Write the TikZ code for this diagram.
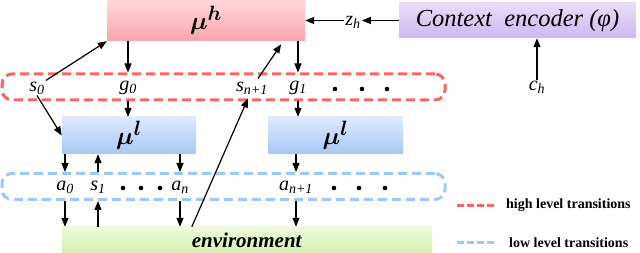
\documentclass[tikz,border=0pt]{standalone}
\usepackage{fontspec}
\setmainfont{Liberation Serif}
\usepackage{amsmath}
\usepackage{bm}
\usepackage{tikz}
\usetikzlibrary{positioning, arrows.meta, calc}

\definecolor{hiRed}{HTML}{FF6464}
\definecolor{loBlue}{HTML}{9CC8FA}
\definecolor{muhTop}{HTML}{FFD8DC}
\definecolor{muhBot}{HTML}{F8A4AC}
\definecolor{mulTop}{HTML}{DEEAFD}
\definecolor{mulBot}{HTML}{A8C6F6}
\definecolor{envTop}{HTML}{F0FADF}
\definecolor{envBot}{HTML}{D2F0AE}
\definecolor{ctxTop}{HTML}{E8DDF7}
\definecolor{ctxBot}{HTML}{CDB9EE}
\newcommand{\tsub}[2]{\textit{#1}\textsubscript{\textit{#2}}}

\begin{document}
\begin{tikzpicture}[x=1pt, y=-1pt,
  arr/.style={-{Triangle[length=9pt,width=7pt]}, line width=1.2pt},
  lbl/.style={inner sep=1pt, font=\fontsize{20}{20}\selectfont},
  trans/.style={line width=3pt, dash pattern=on 9pt off 5pt,
    rounded corners=10pt, minimum width=443pt, minimum height=26pt},
  legline/.style={line width=3pt, dash pattern=on 6.5pt off 3.5pt}]

  \useasboundingbox (0,0) rectangle (640,253);

  % --- Boxes ---
  \node[top color=muhTop, bottom color=muhBot, minimum width=198pt,
    minimum height=41pt] (muh) at (206,20.5)
    {\fontsize{29}{29}\selectfont$\bm{\mu^{h}}$};
  \node[top color=ctxTop, bottom color=ctxBot, minimum width=237pt,
    minimum height=35pt] (ctx) at (517.5,20.5)
    {\fontsize{24.5}{24.5}\selectfont\textit{Context~ encoder (φ)}};
  \node[top color=mulTop, bottom color=mulBot, minimum width=134pt,
    minimum height=37pt] (mulA) at (129,135.5)
    {\fontsize{28}{28}\selectfont$\bm{\mu^{l}}$};
  \node[top color=mulTop, bottom color=mulBot, minimum width=135pt,
    minimum height=37pt] (mulB) at (335.5,135.5)
    {\fontsize{28}{28}\selectfont$\bm{\mu^{l}}$};
  \node[top color=envTop, bottom color=envBot,
    minimum width=370pt, minimum height=26pt] (env) at (247,240)
    {\fontsize{21}{21}\selectfont\textbf{\textit{environment}}};

  % --- Transition groups ---
  \node[trans, draw=hiRed] (hlt) at (223.5,87) {};
  \node[trans, draw=loBlue] (llt) at (223.5,186.5) {};

  % --- High level labels ---
  \node[lbl] (s0) at (37,88) {\tsub{s}{0}};
  \node[lbl] (g0) at (128,88) {\tsub{g}{0}};
  \node[lbl] (sn1) at (252,88) {\tsub{s}{n+1}};
  \node[lbl] (g1) at (298,88) {\tsub{g}{1}};
  \foreach \x in {335,362,387}{
    \fill (\x,89) circle (2.3pt);
  }

  % --- Low level labels ---
  \node[lbl] (a0) at (65,187) {\tsub{a}{0}};
  \node[lbl] (s1) at (98,187) {\tsub{s}{1}};
  \node[lbl] (an) at (180,187) {\tsub{a}{n}};
  \node[lbl] (an1) at (296,187) {\tsub{a}{n+1}};
  \foreach \x in {123,141,160,334,359,385}{
    \fill (\x,188) circle (2.3pt);
  }

  % --- Context ---
  \node[lbl] (zh) at (353,22) {\tsub{z}{h}};
  \node[lbl] (ch) at (537,87) {\tsub{c}{h}};

  \draw[arr] (ctx.west) -- (ctx.west -| zh.east);
  \draw[arr] (zh.west |- muh.east) -- (muh.east);
  \draw[arr] (ch.north) -- (ch.north |- ctx.south);

  % --- High level arrows ---
  \draw[arr] (s0.north east) -- (muh.south west);
  \draw[arr] (s0.south) -- (mulA.west);
  \draw[arr] (g0 |- muh.south) -- (g0 |- hlt.north);
  \draw[arr] (g0 |- hlt.south) -- (g0 |- mulA.north);
  \draw[arr] (g1 |- muh.south) -- (g1 |- hlt.north);
  \draw[arr] (g1 |- hlt.south) -- (g1 |- mulB.north);
  \coordinate (envs) at ($(env.north west)+(130,0)$);
  \coordinate (muhs) at ($(muh.south east)+(-24,3)$);
  \draw[arr] (envs) -- ([xshift=-4pt,yshift=-3pt]sn1.south);
  \draw[arr] ([xshift=6pt,yshift=2pt]sn1.north) -- (muhs);

  % --- Low level arrows ---
  \foreach \n in {a0,an,an1}{
    \draw[arr] (\n |- mulA.south) -- (\n |- llt.north);
    \draw[arr] (\n |- llt.south) -- (\n |- env.north);
  }
  \draw[arr] (s1 |- env.north) -- (s1 |- llt.south);
  \draw[arr] (s1 |- llt.north) -- (s1 |- mulA.south);

  % --- Legend ---
  \coordinate (hiA) at (457,206);
  \coordinate (hiB) at (496,206);
  \coordinate (loA) at (457,243);
  \coordinate (loB) at (496,243);
  \draw[legline, hiRed] (hiA) -- (hiB);
  \draw[legline, loBlue] (loA) -- (loB);
  \node[anchor=west, inner sep=0pt, font=\fontsize{14}{14}\selectfont\bfseries]
    (hiT) at (506,205) {high level transitions};
  \node[anchor=west, inner sep=0pt, font=\fontsize{14}{14}\selectfont\bfseries]
    (loT) at (509,243) {low level transitions};

\end{tikzpicture}
\end{document}
